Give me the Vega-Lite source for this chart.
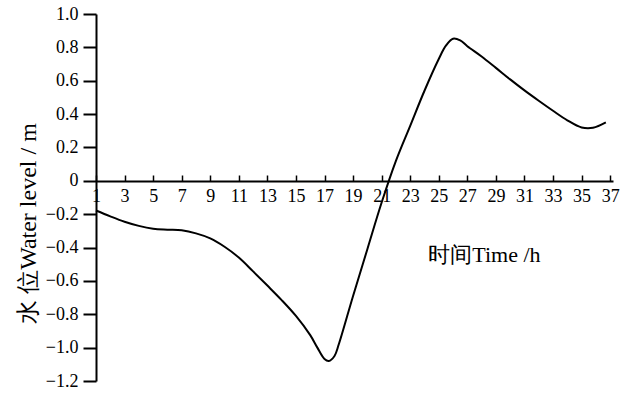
{
  "$schema": "https://vega.github.io/schema/vega-lite/v6.json",
  "width": 517,
  "height": 367,
  "autosize": "none",
  "padding": {"left": 96, "top": 14, "right": 22, "bottom": 15},
  "background": "white",
  "config": {"view": {"stroke": null}, "font": "Liberation Serif"},
  "encoding": {
    "x": {
      "field": "t", "type": "quantitative",
      "scale": {"domain": [1, 37.2], "nice": false, "zero": false},
      "axis": {
        "orient": "bottom", "offset": -200, "values": [1,3,5,7,9,11,13,15,17,19,21,23,25,27,29,31,33,35,37],
        "tickSize": -6, "tickColor": "black", "tickWidth": 1.5, "domainColor": "black", "domainWidth": 1.8,
        "labelFont": "Liberation Serif", "labelFontSize": 18, "labelColor": "black", "labelPadding": 12,
        "labelOverlap": false, "labelBound": false, "labelFlush": false,
        "grid": false, "title": null
      }
    },
    "y": {
      "field": "level", "type": "quantitative",
      "scale": {"domain": [-1.2, 1.0], "nice": false},
      "axis": {
        "values": [-1.2,-1.0,-0.8,-0.6,-0.4,-0.2,0,0.2,0.4,0.6,0.8,1.0],
        "labelExpr": "datum.value == 0 ? '0' : format(datum.value, '.1f')",
        "tickSize": 13, "tickColor": "black", "tickWidth": 2, "domainColor": "black", "domainWidth": 2,
        "labelFont": "Liberation Serif", "labelFontSize": 18, "labelColor": "black", "labelPadding": 5,
        "labelOverlap": false, "labelBound": false, "labelFlush": false,
        "grid": false,
        "title": "水 位Water  level  / m", "titleFont": "Liberation Serif", "titleFontSize": 24, "titleFontWeight": "normal",
        "titleColor": "black", "titleAngle": -90, "titleX": -68, "titleY": 209, "titleAlign": "center", "titleBaseline": "middle"
      }
    }
  },
  "layer": [
    {
      "data": {"values": [
        {"t": 1, "level": -0.178},
        {"t": 2, "level": -0.213},
        {"t": 3, "level": -0.245},
        {"t": 4, "level": -0.27},
        {"t": 5, "level": -0.287},
        {"t": 6, "level": -0.293},
        {"t": 7, "level": -0.297},
        {"t": 8, "level": -0.315},
        {"t": 9, "level": -0.345},
        {"t": 10, "level": -0.395},
        {"t": 11, "level": -0.46},
        {"t": 12, "level": -0.543},
        {"t": 13, "level": -0.628},
        {"t": 14, "level": -0.715},
        {"t": 15, "level": -0.81},
        {"t": 16, "level": -0.925},
        {"t": 16.5, "level": -1.0},
        {"t": 17, "level": -1.068},
        {"t": 17.3, "level": -1.08},
        {"t": 17.7, "level": -1.05},
        {"t": 18, "level": -0.98},
        {"t": 19, "level": -0.69},
        {"t": 20, "level": -0.41},
        {"t": 21, "level": -0.13},
        {"t": 22, "level": 0.12},
        {"t": 23, "level": 0.33},
        {"t": 24, "level": 0.54},
        {"t": 25, "level": 0.73},
        {"t": 25.5, "level": 0.81},
        {"t": 26, "level": 0.852},
        {"t": 26.5, "level": 0.842},
        {"t": 27, "level": 0.807},
        {"t": 28, "level": 0.745},
        {"t": 29, "level": 0.677},
        {"t": 30, "level": 0.608},
        {"t": 31, "level": 0.542},
        {"t": 32, "level": 0.48},
        {"t": 33, "level": 0.42},
        {"t": 34, "level": 0.363},
        {"t": 35, "level": 0.32},
        {"t": 35.8, "level": 0.318},
        {"t": 36.7, "level": 0.35}
      ]},
      "mark": {"type": "line", "color": "black", "strokeWidth": 2, "interpolate": "catmull-rom"}
    },
    {
      "data": {"values": [{"t": 28.2, "level": -0.443, "label": "时间Time /h"}]},
      "mark": {"type": "text", "font": "Liberation Serif", "fontSize": 22, "color": "black", "align": "center", "baseline": "middle"},
      "encoding": {
        "text": {"field": "label"}
      }
    }
  ]
}
